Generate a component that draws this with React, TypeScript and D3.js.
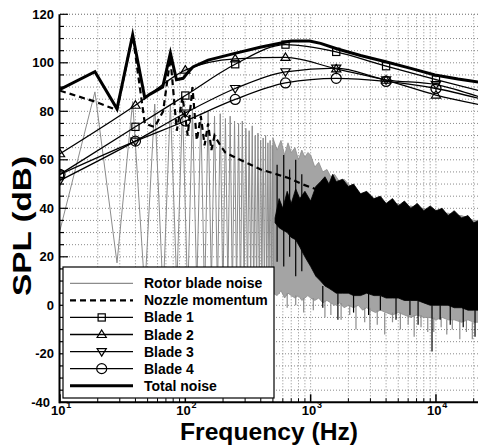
import React from 'react';
import * as d3 from 'd3';

const W = 478;
const H = 446;

// ---- Rotor blade noise: low-frequency harmonic part (Hz, dB)
const rotorFreq = [10, 19, 28.5, 38, 47.5, 57, 66.5, 76, 85.5, 95, 104.5, 114, 123.5, 133, 142.5, 152, 161.5, 171, 180.5, 190, 199.5, 209, 218.5, 228, 237.5, 247, 256.5, 266, 275.5, 285, 294.5, 304, 313.5, 323, 332.5, 342, 351.5, 361, 370.5, 380, 389.5, 399, 408.5, 418, 427.5, 437, 446.5, 456, 465.5, 475, 484.5, 494, 503.5];
const rotorDb = [31, 88, 17.5, 84, 6, 83, 4, 83, 8, 82, 3, 81, 7, 79, 2, 80, 9, 78, 5, 79, 3, 77, 8, 78, 4, 76, 6, 75, 2, 76, 7, 73, 5, 72, 9, 74, 3, 70, 6, 71, 4, 68, 8, 69, 5, 70, 7, 67, 3, 68, 6, 66, 5];

// ---- Rotor blade noise: dense broadband part (envelope)
const rotorBandFreq = [500, 540, 580, 620, 660, 700, 750, 800, 850, 900, 950, 1000, 1080, 1160, 1250, 1350, 1450, 1550, 1700, 1850, 2000, 2200, 2400, 2600, 2800, 3000, 3300, 3600, 4000, 4500, 5000, 5600, 6300, 7000, 8000, 9000, 10000, 11200, 12500, 14000, 16000, 18000, 20000, 22050];
const rotorBandTop = [69, 64, 68, 62, 67, 63, 65, 60, 64, 61, 63, 62, 57, 59, 55, 56, 53, 54, 51, 52, 50, 48, 47, 45, 46, 44, 43, 44, 42, 41, 42, 40, 41, 40, 40, 39, 39, 38, 38, 37, 37, 36, 35, 35];
const rotorBandBottom = [5, 4, 6, 3, 5, 4, 3, 4, 2, 3, 4, 3, 2, 3, 1, 2, 1, 0, 1, -1, 0, -1, 0, -2, -1, -2, -3, -2, -3, -4, -3, -4, -5, -4, -5, -5, -6, -5, -6, -6, -7, -6, -7, -7];
const rotorSpikeFreq = [650, 760, 880, 1050, 1300, 1450, 1750, 2050, 2300, 2700, 2970, 3400, 3900, 4500, 5200, 6000, 6700, 7600, 8600, 9600, 11000, 12200, 13500, 15500, 17500, 19500];
const rotorSpikeTop = [5, 4, 3, 3, 2, 1, 1, 0, 0, -1, -1, -2, -3, -3, -3, -4, -4, -4, -5, -5, -5, -6, -6, -6, -6, -7];
const rotorSpikeBottom = [-1, 0, -3, -2, -5, -4, -6, -4, -10, -7, -10, -8, -12, -7, -10, -8, -13, -9, -11, -11, -9, -12, -10, -14, -11, -14];

// ---- Nozzle momentum
const nozzleFreq = [10, 19, 28.5, 38, 47.5, 57, 66.5, 76, 85.5, 95, 104.5, 114, 123.5, 133, 142.5, 152, 161.5, 171, 190, 209, 228, 260, 313, 400, 500, 666, 850, 1157, 1500, 2080];
const nozzleDb = [88.5, 84, 80.5, 111.5, 75, 73.5, 80, 102, 72, 86, 70, 90, 68, 78, 66, 75, 64, 70, 66, 63, 62, 60.5, 58.6, 56, 54.5, 52.5, 50, 47.5, 45.5, 42.2];
const nozzleBandFreq = [520, 560, 600, 650, 700, 760, 820, 900, 1000, 1100, 1200, 1300, 1400, 1500, 1600, 1800, 2000, 2200, 2500, 2800, 3200, 3600, 4000, 4500, 5000, 5600, 6300, 7100, 8000, 9000, 10000, 11200, 12500, 14000, 16000, 18000, 20000, 22050];
const nozzleBandTop = [36, 44, 40, 47, 42, 48, 44, 47, 43, 49, 51, 53, 50, 54, 51, 52, 49, 50, 46, 47, 44, 45, 42, 44, 41, 43, 40, 42, 39, 41, 39, 40, 37, 39, 36, 37, 34, 35];
const nozzleBandBottom = [34, 32, 31, 30, 28, 27, 24, 20, 16, 12, 10, 8, 7, 6, 5, 5, 5, 4, 4, 5, 4, 4, 3, 3, 3, 2, 2, 2, 1, 0, 0, 0, 0, -1, -1, -2, -2, -2];
const nozzleSpikeFreq = [540, 610, 680, 760, 850, 1250, 1650, 2200, 2900, 3600, 4800, 6200, 7200, 9300, 10800, 13000, 16500, 20500];
const nozzleSpikeTop = [58, 62, 56, 60, 54, 8, 5, 5, 5, 4, 3, 2, 2, 0, 0, 0, -1, -2];
const nozzleSpikeBottom = [18, 16, 20, 12, 14, -1, -6, -3, -4, -2, -6, -4, -8, -19, -6, -8, -9, -13];

// ---- Blades (one-third octave levels)
const bladeFreq = [10, 40, 100, 250, 630, 1600, 4000, 10000, 22050];
const markerFreq = [10, 40, 100, 250, 630, 1600, 4000, 10000];
const blade1Db = [54, 73.6, 86.5, 99.4, 107.5, 104.5, 98.6, 93.1, 88.5];
const blade2Db = [62.5, 82.5, 97, 101.6, 102.2, 97.5, 92.8, 86.7, 82.8];
const blade3Db = [51.5, 67.7, 79.3, 89.4, 96.3, 97.8, 93, 91, 86];
const blade4Db = [54, 67.7, 76, 84.9, 91.7, 93.6, 92.3, 89.4, 85.3];

// ---- Total noise
const totalFreq = [10, 19, 28.5, 38, 47.5, 52, 66, 76, 85, 96, 103, 115, 152, 248, 395, 622, 700, 980, 1200, 1614, 2500, 3970, 6300, 9820, 15000, 22050];
const totalDb = [89, 96.3, 81, 111.5, 85.5, 87, 90, 104, 93, 93.6, 95.6, 98.3, 101.1, 103.9, 106.4, 108.5, 109, 109, 108, 105.8, 103, 100.4, 97.7, 95, 93.3, 92];

const yTicks = [-40, -20, 0, 20, 40, 60, 80, 100, 120];
const xDecadeExp = [1, 2, 3, 4];
const legendLabels = ['Rotor blade noise', 'Nozzle momentum', 'Blade 1', 'Blade 2', 'Blade 3', 'Blade 4', 'Total noise'];

const FONT = "'Liberation Sans', Arial, Helvetica, sans-serif";

const x = d3.scaleLog().domain([10, 22050]).range([60, 479]);
const y = d3.scaleLinear().domain([-40, 120]).range([402.3, 14.3]);

function linePath(fs: number[], vs: number[], curve?: any) {
  const g = d3.line<number>().x((_, i) => x(fs[i])).y((d) => y(d));
  if (curve) g.curve(curve);
  return g(vs) || '';
}
function areaPath(fs: number[], top: number[], bottom: number[]) {
  return (
    d3
      .area<number>()
      .x((_, i) => x(fs[i]))
      .y0((_, i) => y(bottom[i]))
      .y1((d) => y(d))(top) || ''
  );
}

type MarkerKind = 'square' | 'tri' | 'itri' | 'circle';
function Marker({ kind, cx, cy }: { kind: MarkerKind; cx: number; cy: number }) {
  const common = { fill: 'none', stroke: '#000', strokeWidth: 1.2 };
  if (kind === 'square') return <rect x={cx - 3.6} y={cy - 3.6} width={7.2} height={7.2} {...common} />;
  if (kind === 'circle') return <circle cx={cx} cy={cy} r={5} {...common} />;
  if (kind === 'tri')
    return <polygon points={`${cx},${cy - 4.5} ${cx + 4.6},${cy + 3} ${cx - 4.6},${cy + 3}`} {...common} />;
  return <polygon points={`${cx},${cy + 4.5} ${cx + 4.6},${cy - 3} ${cx - 4.6},${cy - 3}`} {...common} />;
}

export default function App() {
  const minorFreqs: number[] = [];
  for (let d = 1; d <= 4; d++) {
    for (let m = 2; m <= 9; m++) {
      const f = m * Math.pow(10, d);
      if (f <= 22050) minorFreqs.push(f);
    }
  }
  const decadeFreqs = xDecadeExp.map((e) => Math.pow(10, e));
  const hGrid = d3.range(-35, 121, 5);

  const blades: { db: number[]; kind: MarkerKind }[] = [
    { db: blade1Db, kind: 'square' },
    { db: blade2Db, kind: 'tri' },
    { db: blade3Db, kind: 'itri' },
    { db: blade4Db, kind: 'circle' },
  ];

  const gray = '#8c8c8c';

  const legendX = 63;
  const legendY = 267;
  const rowY = (i: number) => 283.3 + i * 17.07;

  return (
    <svg
      width={W}
      height={H}
      viewBox={`0 0 ${W} ${H}`}
      style={{ position: 'absolute', left: 0, top: 0, display: 'block', background: '#fff' }}
      fontFamily={FONT}
    >
      <defs>
        <clipPath id="plot">
          <rect x={60} y={13} width={419} height={390} />
        </clipPath>
      </defs>
      <rect x={0} y={0} width={W} height={H} fill="#fff" />

      {/* grid */}
      <g stroke="#8a8a8a" strokeWidth={1} strokeDasharray="1 2">
        {hGrid.map((v) => (
          <line key={'h' + v} x1={60} x2={479} y1={y(v)} y2={y(v)} />
        ))}
        {[...minorFreqs, ...decadeFreqs.slice(1)].map((f) => (
          <line key={'v' + f} x1={x(f)} x2={x(f)} y1={y(120)} y2={y(-40)} />
        ))}
        <line x1={60} x2={479} y1={y(120)} y2={y(120)} />
      </g>

      <g clipPath="url(#plot)">
        {/* rotor blade noise */}
        <path d={areaPath(rotorBandFreq, rotorBandTop, rotorBandBottom)} fill="#a4a4a4" stroke={gray} strokeWidth={0.8} />
        <path d={linePath(rotorFreq, rotorDb)} fill="none" stroke={gray} strokeWidth={1} />
        {rotorSpikeFreq.map((f, i) => (
          <line key={'rs' + i} x1={x(f)} x2={x(f)} y1={y(rotorSpikeTop[i])} y2={y(rotorSpikeBottom[i])} stroke={gray} strokeWidth={1.2} />
        ))}

        {/* nozzle momentum */}
        <path d={areaPath(nozzleBandFreq, nozzleBandTop, nozzleBandBottom)} fill="#000" stroke="#000" strokeWidth={0.8} />
        {nozzleSpikeFreq.map((f, i) => (
          <line key={'ns' + i} x1={x(f)} x2={x(f)} y1={y(nozzleSpikeTop[i])} y2={y(nozzleSpikeBottom[i])} stroke="#000" strokeWidth={1.2} />
        ))}
        <path d={linePath(nozzleFreq, nozzleDb)} fill="none" stroke="#000" strokeWidth={2.2} strokeDasharray="6 4" />

        {/* blades */}
        {blades.map((b, bi) => (
          <g key={'b' + bi}>
            <path d={linePath(bladeFreq, b.db, d3.curveMonotoneX)} fill="none" stroke="#000" strokeWidth={1.3} />
            {markerFreq.map((f, i) => (
              <Marker key={i} kind={b.kind} cx={x(f)} cy={y(b.db[i])} />
            ))}
          </g>
        ))}

        {/* total */}
        <path d={linePath(totalFreq, totalDb)} fill="none" stroke="#000" strokeWidth={3} strokeLinejoin="miter" strokeMiterlimit={10} />
      </g>

      {/* axes */}
      <g stroke="#000">
        <line x1={59.5} x2={59.5} y1={y(120)} y2={y(-40) + 1} strokeWidth={2} />
        <line x1={59} x2={479} y1={y(-40)} y2={y(-40)} strokeWidth={2} />
        {hGrid.concat([-40]).map((v) => (
          <line key={'yt' + v} x1={60} x2={v % 20 === 0 ? 68 : 64} y1={y(v)} y2={y(v)} strokeWidth={1.2} />
        ))}
        {decadeFreqs.map((f) => (
          <line key={'xt' + f} x1={x(f)} x2={x(f)} y1={y(-40)} y2={y(-40) - 8} strokeWidth={1.5} />
        ))}
        {minorFreqs.map((f) => (
          <line key={'xm' + f} x1={x(f)} x2={x(f)} y1={y(-40)} y2={y(-40) - 4} strokeWidth={1} />
        ))}
      </g>

      {/* tick labels */}
      <g fontWeight="bold" fill="#000">
        {yTicks.map((v) => (
          <text key={'yl' + v} x={v === -40 ? 50 : 54} y={y(v) + 4.6} textAnchor="end" fontSize={13}>
            {v}
          </text>
        ))}
        {xDecadeExp.map((e) => {
          const tx = x(Math.pow(10, e));
          return (
            <g key={'xl' + e}>
              <text x={tx + 5.5} y={414.5} textAnchor="end" fontSize={13}>
                10
              </text>
              <text x={tx + 6.3} y={407.5} textAnchor="start" fontSize={9}>
                {e}
              </text>
            </g>
          );
        })}
      </g>

      {/* axis titles */}
      <text
        x={269}
        y={439.5}
        textAnchor="middle"
        fontWeight="bold"
        fontSize={23.5}
        textLength={178}
        lengthAdjust="spacingAndGlyphs"
      >
        Frequency (Hz)
      </text>
      <text
        transform="translate(30.5,226) rotate(-90)"
        textAnchor="middle"
        fontWeight="bold"
        fontSize={25}
        textLength={140}
        lengthAdjust="spacingAndGlyphs"
      >
        SPL (dB)
      </text>

      {/* legend */}
      <rect x={legendX} y={legendY} width={211} height={131} fill="#fff" stroke="#000" strokeWidth={1.2} />
      {legendLabels.map((lab, i) => {
        const ly = rowY(i);
        let sample: React.ReactNode = null;
        if (i === 0) sample = <line x1={70} x2={133} y1={ly} y2={ly} stroke={gray} strokeWidth={1.2} />;
        else if (i === 1)
          sample = <line x1={70} x2={133} y1={ly} y2={ly} stroke="#000" strokeWidth={2.2} strokeDasharray="6 4" />;
        else if (i === 6) sample = <line x1={70} x2={133} y1={ly} y2={ly} stroke="#000" strokeWidth={3} />;
        else
          sample = (
            <g>
              <line x1={70} x2={133} y1={ly} y2={ly} stroke="#000" strokeWidth={1.3} />
              <Marker kind={blades[i - 2].kind} cx={101.7} cy={ly} />
            </g>
          );
        return (
          <g key={'lg' + i}>
            {sample}
            <text x={144} y={ly + 5} fontWeight="bold" fontSize={14}>
              {lab}
            </text>
          </g>
        );
      })}
    </svg>
  );
}
